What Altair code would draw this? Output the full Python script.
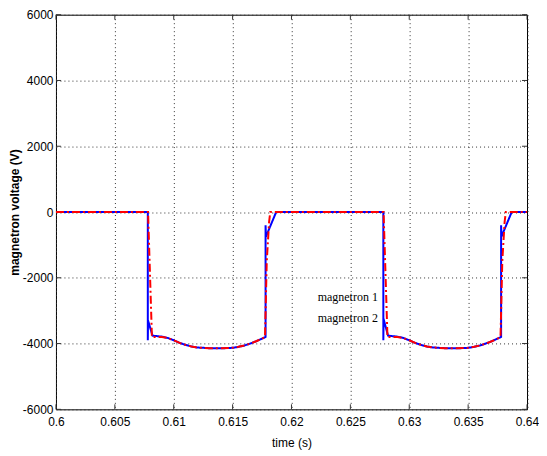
import altair as alt
import pandas as pd

# ---- data ----
# magnetron 1 (blue, solid)
t1 = [0.6000, 0.6078, 0.6078, 0.60782, 0.6082, 0.6090, 0.6095, 0.6100, 0.6105,
      0.6110, 0.6115, 0.6120, 0.6130, 0.6140, 0.6150, 0.6155, 0.6160, 0.6165,
      0.6170, 0.6175, 0.6178, 0.6178, 0.61783, 0.6187,
      0.6278, 0.6278, 0.62782, 0.6282, 0.6290, 0.6295, 0.6300, 0.6305,
      0.6310, 0.6315, 0.6320, 0.6330, 0.6340, 0.6350, 0.6355, 0.6360, 0.6365,
      0.6370, 0.6375, 0.6378, 0.6378, 0.63783, 0.6387, 0.6400]
v1 = [0, 0, -3900, -3300, -3760, -3790, -3830, -3900, -3980,
      -4040, -4090, -4120, -4140, -4145, -4130, -4100, -4060, -4000,
      -3930, -3850, -3800, -400, -750, 0,
      0, -3900, -3250, -3760, -3790, -3830, -3900, -3980,
      -4040, -4090, -4120, -4140, -4145, -4130, -4100, -4060, -4000,
      -3930, -3850, -3800, -400, -750, 0, 0]

# magnetron 2 (red, dash-dot)
t2 = [0.6000, 0.60782, 0.60815, 0.6090, 0.6095, 0.6100, 0.6105,
      0.6110, 0.6115, 0.6120, 0.6130, 0.6140, 0.6150, 0.6155, 0.6160, 0.6165,
      0.6170, 0.6175, 0.61775, 0.6179, 0.6181, 0.6182,
      0.62782, 0.62815, 0.6290, 0.6295, 0.6300, 0.6305,
      0.6310, 0.6315, 0.6320, 0.6330, 0.6340, 0.6350, 0.6355, 0.6360, 0.6365,
      0.6370, 0.6375, 0.63775, 0.6379, 0.6381, 0.6382, 0.6400]
v2 = [0, 0, -3800, -3800, -3830, -3900, -3980,
      -4040, -4090, -4120, -4140, -4145, -4130, -4100, -4060, -4000,
      -3930, -3850, -3800, -1500, -300, 0,
      0, -3800, -3800, -3830, -3900, -3980,
      -4040, -4090, -4120, -4140, -4145, -4130, -4100, -4060, -4000,
      -3930, -3850, -3800, -1500, -300, 0, 0]

series_names = ["magnetron 1", "magnetron 2"]
x_ticks = [0.6, 0.605, 0.61, 0.615, 0.62, 0.625, 0.63, 0.635, 0.64]
y_ticks = [-6000, -4000, -2000, 0, 2000, 4000, 6000]

W, H = 471.5, 395

rows = []
for i, (t, v) in enumerate(zip(t1, v1)):
    rows.append({"t": t, "v": v, "series": series_names[0], "i": i})
for i, (t, v) in enumerate(zip(t2, v2)):
    rows.append({"t": t, "v": v, "series": series_names[1], "i": i})
df = pd.DataFrame(rows)

xdf = pd.DataFrame({"t": x_ticks})
ydf = pd.DataFrame({"v": y_ticks})

tick_font = "Liberation Sans, Arial, sans-serif"

xscale = alt.Scale(domain=[0.6, 0.64], nice=False, zero=False)
yscale = alt.Scale(domain=[-6000, 6000], nice=False, zero=False)

lines = alt.Chart(df).mark_line(strokeWidth=2, clip=True).encode(
    x=alt.X("t:Q", scale=xscale, title="time (s)",
            axis=alt.Axis(values=x_ticks, labelExpr="'' + datum.value",
                          labelFlush=False, labelOverlap=False,
                          grid=True, gridDash=[1, 3], gridColor="#333",
                          gridOpacity=1, tickSize=0, domain=False,
                          labelFont=tick_font, labelFontSize=12,
                          labelColor="black", labelPadding=7,
                          titleFont=tick_font, titleFontSize=12,
                          titleFontWeight="normal", titleColor="black",
                          titlePadding=10)),
    y=alt.Y("v:Q", scale=yscale, title="magnetron voltage (V)",
            axis=alt.Axis(values=y_ticks, labelExpr="'' + datum.value",
                          labelFlush=False, labelOverlap=False,
                          grid=True, gridDash=[1, 3], gridColor="#333",
                          gridOpacity=1, tickSize=0, domain=False,
                          labelFont=tick_font, labelFontSize=12,
                          labelColor="black", labelPadding=3,
                          titleFont="Liberation Sans, Arial, sans-serif",
                          titleFontSize=12, titleFontWeight="bold",
                          titleColor="black", titlePadding=1)),
    color=alt.Color("series:N",
                    scale=alt.Scale(domain=series_names, range=["#0000ff", "#ff0000"]),
                    legend=alt.Legend(title=None, orient="none",
                                      legendX=250, legendY=277,
                                      symbolOpacity=0, symbolSize=0,
                                      symbolStrokeWidth=0, labelOffset=0,
                                      labelFont="Liberation Serif, Times New Roman, serif",
                                      labelFontSize=12, labelColor="black",
                                      rowPadding=9, padding=0)),
    strokeDash=alt.StrokeDash("series:N",
                              scale=alt.Scale(domain=series_names,
                                              range=[[1, 0], [8, 3, 2, 3]]),
                              legend=None),
    order=alt.Order("i:Q"),
)

tick_color = "#333"
top_ticks = alt.Chart(xdf).mark_rule(color=tick_color).encode(
    x=alt.X("t:Q", scale=xscale), y=alt.value(0), y2=alt.value(5))
bot_ticks = alt.Chart(xdf).mark_rule(color=tick_color).encode(
    x=alt.X("t:Q", scale=xscale), y=alt.value(H - 5), y2=alt.value(H))
left_ticks = alt.Chart(ydf).mark_rule(color=tick_color).encode(
    y=alt.Y("v:Q", scale=yscale), x=alt.value(0), x2=alt.value(5))
right_ticks = alt.Chart(ydf).mark_rule(color=tick_color).encode(
    y=alt.Y("v:Q", scale=yscale), x=alt.value(W - 5), x2=alt.value(W))

chart = alt.layer(top_ticks, bot_ticks, left_ticks, right_ticks, lines).properties(
    width=W, height=H,
    autosize=alt.AutoSizeParams(type="none"),
    padding={"left": 48, "top": 6.5, "right": 12, "bottom": 40},
    background="white",
).configure_view(stroke="black", strokeWidth=1)

chart.save("out.html", embed_options={"renderer": "svg", "actions": False})
